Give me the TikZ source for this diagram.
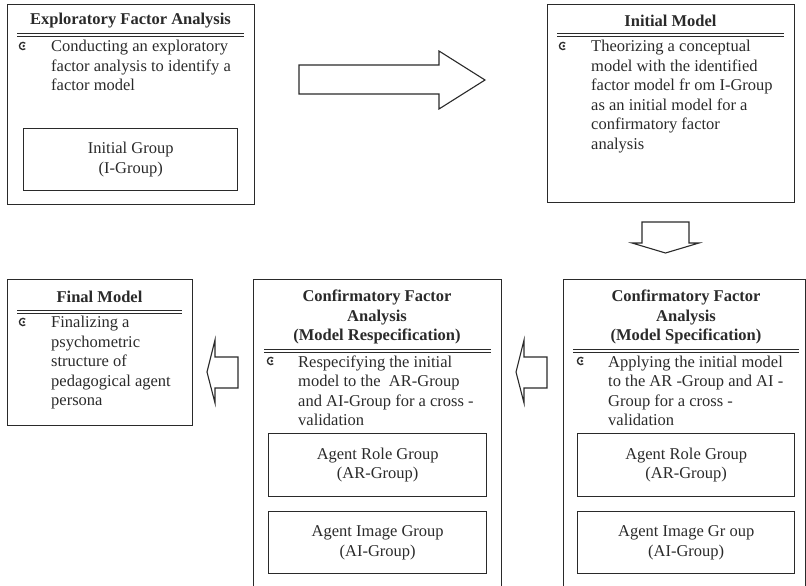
\documentclass[tikz,border=0pt]{standalone}
\usepackage{fontspec}
\setmainfont{Liberation Serif}
\usetikzlibrary{positioning}
\definecolor{ink}{HTML}{2A2A2A}
\newcommand\panelfont{\fontsize{16.5}{19.5}\selectfont}
\tikzset{
	panel/.style={
		rectangle,
		draw=ink,
		line width=1.4pt,
		anchor=north west,
		inner sep=0pt,
	},
	heading/.style={
		font=\panelfont\bfseries,
		align=center,
		inner sep=0pt,
		text=ink,
	},
	body/.style={
		font=\panelfont,
		align=left,
		anchor=north west,
		inner sep=0pt,
		text=ink,
	},
	group/.style={
		rectangle,
		draw=ink,
		line width=1.4pt,
		anchor=north west,
		font=\panelfont,
		align=center,
		inner sep=0pt,
		text=ink,
	},
	rule/.style={
		draw=ink,
		line width=0.9pt,
	},
	blockarrow/.style={
		draw=ink,
		line width=1.1pt,
		fill=white,
	},
	cmark/.pic={
		\draw[ink, line width=1.3pt] (0,0) ++(50:3.6) arc[start angle=50, end angle=310, radius=3.6];
		\fill[ink] (0.7,0) circle[radius=1.3];
	},
}

\begin{document}
\begin{tikzpicture}[x=1pt, y=-1pt]
		\useasboundingbox (0,0) rectangle (806,586);
		\clip (0,0) rectangle (806,586);
		
		% Place panels
		\node [panel, minimum width=247, minimum height=200] (efa) at (7,4) {};
		\node [panel, minimum width=247, minimum height=198] (init) at (547,4) {};
		\node [panel, minimum width=185, minimum height=146] (final) at (7,279) {};
		\node [panel, minimum width=248, minimum height=330] (respec) at (253,279) {};
		\node [panel, minimum width=242, minimum height=330] (spec) at (563,279) {};
		
		% Exploratory factor analysis
		\node [heading] (efa-t) at (130.5,21) {Exploratory Factor Analysis};
		\draw [rule] (17,33) -- (244,33);
		\draw [rule] (17,36) -- (244,36);
		\pic at (23,46) {cmark};
		\node [body] (efa-b) at (51,40) {Conducting an exploratory\\factor analysis to identify a\\factor model};
		\node [group, minimum width=214, minimum height=62] (igroup) at (23,128) {Initial Group\\(I-Group)};
		
		% Initial model
		\node [heading] (init-t) at (670.5,21) {Initial Model};
		\draw [rule] (557,33) -- (784,33);
		\draw [rule] (557,36) -- (784,36);
		\pic at (563,46) {cmark};
		\node [body] (init-b) at (591,40) {Theorizing a conceptual\\model with the identified\\factor model fr om I-Group\\as an initial model for a\\confirmatory factor\\analysis};
		
		% Final model
		\node [heading] (final-t) at (99.5,297) {Final Model};
		\draw [rule] (17,310) -- (182,310);
		\draw [rule] (17,313) -- (182,313);
		\pic at (23,322) {cmark};
		\node [body] (final-b) at (51,316) {Finalizing a\\psychometric\\structure of\\pedagogical agent\\persona};
		
		% CFA, respecification
		\node [heading] (respec-t) at (377,317) {Confirmatory Factor\\Analysis\\(Model Respecification)};
		\draw [rule] (264,349) -- (491,349);
		\draw [rule] (264,352) -- (491,352);
		\pic at (271,361) {cmark};
		\node [body] (respec-b) at (298,355.5) {Respecifying the initial\\model to the~ AR-Group\\and AI-Group for a cross -\\validation};
		\node [group, minimum width=218, minimum height=63] (respec-ar) at (268,433) {Agent Role Group\\(AR-Group)};
		\node [group, minimum width=218, minimum height=62] (respec-ai) at (268,511) {Agent Image Group\\(AI-Group)};
		
		% CFA, specification
		\node [heading] (spec-t) at (686,317) {Confirmatory Factor\\Analysis\\(Model Specification)};
		\draw [rule] (573,349) -- (799,349);
		\draw [rule] (573,352) -- (799,352);
		\pic at (581,361) {cmark};
		\node [body] (spec-b) at (608,355.5) {Applying the initial model\\to the AR -Group and AI -\\Group for a cross -\\validation};
		\node [group, minimum width=217, minimum height=63] (spec-ar) at (577,433) {Agent Role Group\\(AR-Group)};
		\node [group, minimum width=217, minimum height=62] (spec-ai) at (577,511) {Agent Image Gr oup\\(AI-Group)};
		
		% Block arrows
		\draw [blockarrow] (299,65) -- (439,65) -- (439,51) -- (485,80) -- (439,109) -- (439,94) -- (299,94) -- cycle;
		\draw [blockarrow] (642,222) -- (689,222) -- (689,243) -- (699,243) -- (665.5,253) -- (632,243) -- (642,243) -- cycle;
		\draw [blockarrow] (547,357) -- (524,357) -- (524,340) -- (516,372) -- (524,403) -- (524,388) -- (547,388) -- cycle;
		\draw [blockarrow] (238,357) -- (215,357) -- (215,340) -- (207,372) -- (215,403) -- (215,388) -- (238,388) -- cycle;

	\end{tikzpicture}
\end{document}
